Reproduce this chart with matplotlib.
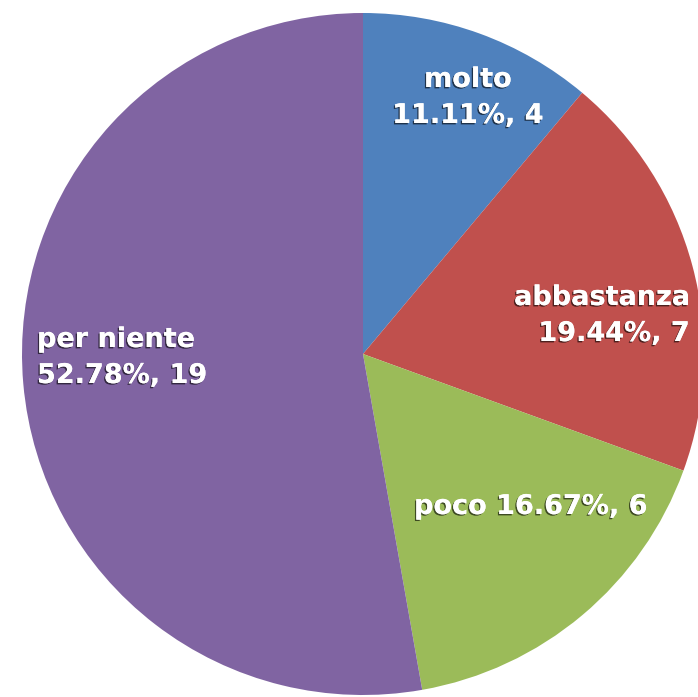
import matplotlib
matplotlib.use("Agg")
from matplotlib import pyplot as plt
import matplotlib.patheffects as pe

# chart data
categories = ["molto", "abbastanza", "poco", "per niente"]
counts = [4, 7, 6, 19]
colors = ["#4F81BD", "#C0504D", "#9BBB59", "#8064A2"]

# label layout (pixel centres, converted below)
label_px = [(468, 98), (600, 316), (531, 507), (118, 358)]
label_align = ["center", "right", "center", "left"]
two_lines = [True, True, False, True]

W, H = 698, 697
cx, cy, rad = 363, 354, 341

fig = plt.figure(figsize=(W / 100, H / 100), dpi=100)
ax = fig.add_axes([0, 0, 1, 1])

wedges, _ = ax.pie(counts, colors=colors, startangle=90, counterclock=False,
                   radius=1, center=(0, 0), wedgeprops=dict(linewidth=0))
# pie() resets the limits, so set them afterwards
ax.set_aspect("auto")
ax.set_xlim(-cx / rad, (W - cx) / rad)
ax.set_ylim(-(H - cy) / rad, cy / rad)
ax.axis("off")

total = sum(counts)
shadow = [pe.withSimplePatchShadow(offset=(-1.0, -1.0), shadow_rgbFace="black", alpha=0.6),
          pe.Normal()]
for name, n, (px, py), ha, tl in zip(categories, counts, label_px, label_align, two_lines):
    pct = f"{100 * n / total:.2f}%, {n}"
    txt = f"{name}\n{pct}" if tl else f"{name} {pct}"
    x = (px - cx) / rad
    y = (cy - py) / rad
    # anchor for left / right aligned blocks
    if ha == "left":
        x = (37 - cx) / rad
    elif ha == "right":
        x = (690 - cx) / rad
    ax.text(x, y, txt, ha=ha, va="center", color="white", fontsize=19.5,
            fontweight="bold", fontfamily="DejaVu Sans", linespacing=1.5,
            multialignment=ha, path_effects=shadow)

plt.savefig("out.png", dpi=100)
